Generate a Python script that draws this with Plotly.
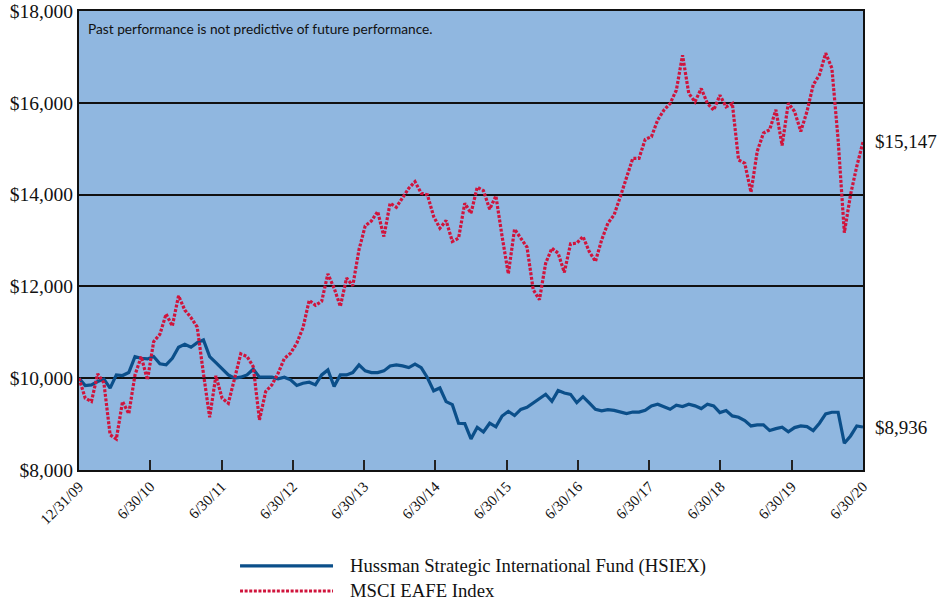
import numpy as np
import plotly.graph_objects as go

# Monthly growth of $10,000, 12/31/09 .. 6/30/20 (127 month-ends)
hsiex = [10000, 9841, 9855, 9928, 9978, 9783, 10072, 10058, 10123, 10471,
         10435, 10420, 10471, 10312, 10290, 10435, 10674, 10739, 10674, 10775,
         10833, 10471, 10341, 10217, 10072, 10000, 10022, 10072, 10196, 10022,
         10022, 10022, 9986, 10022, 9964, 9841, 9891, 9913, 9855, 10072,
         10181, 9819, 10072, 10072, 10123, 10290, 10159, 10123, 10123, 10159,
         10268, 10290, 10268, 10232, 10305, 10228, 10010, 9725, 9787, 9490,
         9424, 9018, 9011, 8678, 8930, 8827, 9019, 8940, 9176, 9278,
         9187, 9321, 9365, 9455, 9550, 9650, 9495, 9730, 9677, 9648,
         9466, 9597, 9460, 9321, 9289, 9314, 9300, 9260, 9230, 9263,
         9263, 9300, 9397, 9433, 9375, 9324, 9411, 9382, 9433, 9397,
         9338, 9433, 9397, 9251, 9295, 9178, 9149, 9077, 8960, 8982,
         8982, 8859, 8902, 8931, 8830, 8924, 8960, 8946, 8859, 9019,
         9222, 9258, 9258, 8582, 8742, 8960, 8936]

msci_eafe = [10000, 9565, 9493, 10094, 9900, 8768, 8674, 9493, 9225, 10072,
             10470, 9964, 10797, 10956, 11398, 11138, 11797, 11485, 11320, 11115,
             10100, 9149, 10051, 9564, 9455, 9964, 10531, 10473, 10254, 9091,
             9709, 9855, 10109, 10430, 10545, 10763, 11100, 11696, 11587, 11674,
             12275, 11964, 11565, 12181, 12014, 12800, 13319, 13427, 13630, 13087,
             13812, 13725, 13920, 14138, 14283, 14029, 13993, 13522, 13268, 13435,
             12978, 13051, 13812, 13594, 14159, 14087, 13681, 13971, 13087, 12275,
             13246, 13051, 12855, 11928, 11710, 12507, 12833, 12725, 12304, 12928,
             12942, 13087, 12761, 12543, 13014, 13377, 13558, 13956, 14355, 14790,
             14790, 15203, 15261, 15623, 15840, 15985, 16275, 17036, 16203, 16022,
             16311, 15985, 15840, 16167, 15913, 15985, 14754, 14681, 14050, 14942,
             15340, 15413, 15848, 15072, 15993, 15812, 15377, 15812, 16391, 16609,
             17080, 16753, 15200, 13170, 14000, 14616, 15147]

tick_labels = ["12/31/09", "6/30/10", "6/30/11", "6/30/12", "6/30/13", "6/30/14",
               "6/30/15", "6/30/16", "6/30/17", "6/30/18", "6/30/19", "6/30/20"]
y_ticks = [8000, 10000, 12000, 14000, 16000, 18000]

names = ["Hussman Strategic International Fund (HSIEX)", "MSCI EAFE Index"]
note = "Past performance is not predictive of future performance."

BLUE = "#0b4f8a"
RED = "#d0143c"
DOT = "3px,1.6px"
SERIF = "Liberation Serif, Times New Roman, serif"

x = list(range(len(hsiex)))
n_last = x[-1]

fig = go.Figure()
fig.add_trace(go.Scatter(x=x, y=hsiex, mode="lines", name=names[0],
                         line=dict(color=BLUE, width=3.2)))
fig.add_trace(go.Scatter(x=x, y=msci_eafe, mode="lines", name=names[1],
                         line=dict(color=RED, width=3.2, dash=DOT)))

tickvals = list(np.linspace(0, n_last, len(tick_labels)))

fig.update_layout(
    width=946, height=601,
    margin=dict(l=79, r=83, t=11, b=131),
    paper_bgcolor="white",
    plot_bgcolor="#90b7e0",
    showlegend=False,
    font=dict(family=SERIF, color="#111111"),
    xaxis=dict(range=[0, n_last], tickmode="array", tickvals=tickvals,
               ticktext=tick_labels, tickangle=-45, ticks="inside",
               ticklen=10, tickwidth=1.5, tickcolor="#222222",
               showgrid=False, zeroline=False, showline=True, mirror=True,
               linecolor="#111111", linewidth=2, automargin=False,
               ticklabeloverflow="allow",
               tickfont=dict(family=SERIF, size=15, color="#111111")),
    yaxis=dict(range=[8000, 18000], tickmode="array", tickvals=y_ticks,
               ticktext=[f"${v:,.0f}" for v in y_ticks],
               showgrid=True, gridcolor="#111111", gridwidth=1.5,
               zeroline=False, showline=True, mirror=True,
               linecolor="#111111", linewidth=2, ticks="", automargin=False,
               ticklabeloverflow="allow",
               tickfont=dict(family=SERIF, size=19.5, color="#111111")),
)

# end-value labels
for vals in (msci_eafe, hsiex):
    fig.add_annotation(x=n_last, y=vals[-1], xref="x", yref="y",
                       text=f"${vals[-1]:,.0f}", showarrow=False,
                       xanchor="left", yanchor="middle", xshift=10,
                       font=dict(family=SERIF, size=19, color="#111111"))

fig.add_annotation(x=0.009, y=0.961, xref="paper", yref="paper", text=note,
                   showarrow=False, xanchor="left", yanchor="middle",
                   font=dict(family="Lato, Open Sans, sans-serif", size=13.7,
                             color="#111111"))

# manual legend
leg = [(names[0], BLUE, "solid", -0.209), (names[1], RED, DOT, -0.2636)]
for name, color, dash, yy in leg:
    fig.add_shape(type="line", xref="paper", yref="paper",
                  x0=0.2054, x1=0.324, y0=yy, y1=yy,
                  line=dict(color=color, width=3.2, dash=dash))
    fig.add_annotation(x=0.343, y=yy, xref="paper", yref="paper", text=name,
                       showarrow=False, xanchor="left", yanchor="middle",
                       font=dict(family=SERIF, size=18.7, color="#111111"))

# remove the browser's default 8px body margin so the figure fills the window
fig.write_html("out.html",
               config={"displayModeBar": False},
               post_script="document.body.style.margin='0';"
                           "document.body.style.overflow='hidden';")
